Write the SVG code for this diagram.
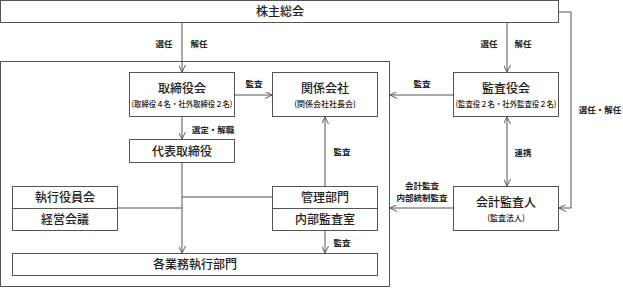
<svg xmlns="http://www.w3.org/2000/svg" width="623" height="288" viewBox="0 0 623 288">
<style>
  .box{fill:#fff;stroke:#555;stroke-width:1}
  .frame{fill:none;stroke:#555;stroke-width:1}
  .ln{fill:none;stroke:#555;stroke-width:1}
  text{font-family:"Noto Sans CJK JP","Noto Sans CJK SC",sans-serif;fill:#222;text-anchor:middle}
  .t{font-size:12px;font-weight:500}
  .s{font-size:8px;font-weight:500}
  .l{font-size:8.5px;font-weight:700}
</style>
<defs>
  <marker id="ah" viewBox="0 0 10 10" refX="10" refY="5" markerWidth="7" markerHeight="7" markerUnits="userSpaceOnUse" orient="auto-start-reverse">
    <polyline points="0,0 10,5 0,10" fill="none" stroke="#555" stroke-width="1.4"/>
  </marker>
</defs>
<rect class="frame" x="0.5" y="61.5" width="389" height="225"/>
<g id="connectors">
  <line class="ln" x1="182" y1="23" x2="182" y2="72" marker-end="url(#ah)"/>
  <line class="ln" x1="507" y1="23" x2="507" y2="72" marker-end="url(#ah)"/>
  <line class="ln" x1="234" y1="95" x2="272" y2="95" marker-end="url(#ah)"/>
  <line class="ln" x1="453" y1="95" x2="390" y2="95" marker-end="url(#ah)"/>
  <polyline class="ln" points="559,12 571,12 571,208 559,208" marker-end="url(#ah)"/>
  <line class="ln" x1="507" y1="117" x2="507" y2="186" marker-start="url(#ah)" marker-end="url(#ah)"/>
  <line class="ln" x1="453" y1="208" x2="390" y2="208" marker-end="url(#ah)"/>
  <line class="ln" x1="182" y1="117" x2="182" y2="139" marker-end="url(#ah)"/>
  <line class="ln" x1="182" y1="163" x2="182" y2="253" marker-end="url(#ah)"/>
  <line class="ln" x1="117" y1="208" x2="182" y2="208"/>
  <line class="ln" x1="272" y1="197" x2="182" y2="197"/>
  <line class="ln" x1="325" y1="186" x2="325" y2="117" marker-end="url(#ah)"/>
  <line class="ln" x1="325" y1="231" x2="325" y2="253" marker-end="url(#ah)"/>
  <text class="l" x="164" y="47">選任</text>
  <text class="l" x="199" y="47">解任</text>
  <text class="l" x="489" y="47">選任</text>
  <text class="l" x="523" y="47">解任</text>
  <text class="l" x="254" y="87">監査</text>
  <text class="l" x="422" y="87">監査</text>
  <text class="l" x="600" y="113">選任・解任</text>
  <text class="l" x="213" y="133">選定・解職</text>
  <text class="l" x="342" y="155">監査</text>
  <text class="l" x="523" y="156">連携</text>
  <text class="l" x="422" y="189">会計監査</text>
  <text class="l" x="422" y="201">内部統制監査</text>
  <text class="l" x="342" y="246">監査</text>
</g>
<g id="kabunushi">
  <rect class="box" x="0.5" y="0.5" width="558" height="22"/>
  <text class="t" x="280" y="16">株主総会</text>
</g>
<g id="torishimariyakukai">
  <rect class="box" x="129.5" y="72.5" width="105" height="44"/>
  <text class="t" x="182" y="93">取締役会</text>
  <text class="s" x="182" y="107" textLength="101" lengthAdjust="spacingAndGlyphs">(取締役４名・社外取締役２名)</text>
</g>
<g id="kankei">
  <rect class="box" x="272.5" y="72.5" width="105" height="44"/>
  <text class="t" x="325" y="93">関係会社</text>
  <text class="s" x="325" y="107">(関係会社社長会)</text>
</g>
<g id="kansayakukai">
  <rect class="box" x="453.5" y="72.5" width="105" height="44"/>
  <text class="t" x="506" y="93">監査役会</text>
  <text class="s" x="506" y="107" textLength="101" lengthAdjust="spacingAndGlyphs">(監査役２名・社外監査役２名)</text>
</g>
<g id="daihyo">
  <rect class="box" x="129.5" y="139.5" width="105" height="23"/>
  <text class="t" x="182" y="155.5">代表取締役</text>
</g>
<g id="shikko">
  <rect class="box" x="12.5" y="186.5" width="105" height="44"/>
  <line class="ln" x1="12.5" y1="208.5" x2="117.5" y2="208.5"/>
  <text class="t" x="65" y="202">執行役員会</text>
  <text class="t" x="65" y="224">経営会議</text>
</g>
<g id="kanri">
  <rect class="box" x="272.5" y="186.5" width="105" height="44"/>
  <line class="ln" x1="272.5" y1="208.5" x2="377.5" y2="208.5"/>
  <text class="t" x="325" y="202">管理部門</text>
  <text class="t" x="325" y="224">内部監査室</text>
</g>
<g id="kaikei">
  <rect class="box" x="453.5" y="186.5" width="105" height="44"/>
  <text class="t" x="506" y="207">会計監査人</text>
  <text class="s" x="506" y="221">(監査法人)</text>
</g>
<g id="gyomu">
  <rect class="box" x="12.5" y="253.5" width="365" height="22"/>
  <text class="t" x="195" y="269">各業務執行部門</text>
</g>
</svg>
